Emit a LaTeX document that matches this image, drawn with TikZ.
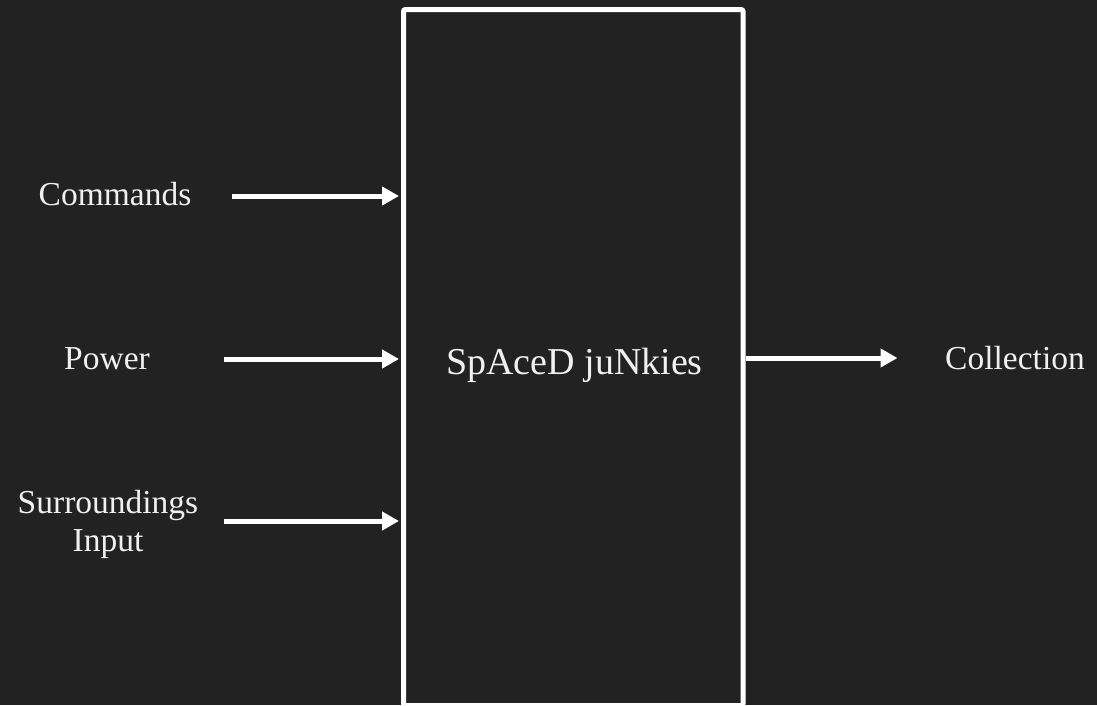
\documentclass[tikz,border=0pt]{standalone}
\usepackage{fontspec}
\setmainfont{Liberation Serif}
\usetikzlibrary{arrows.meta}
\definecolor{bgc}{RGB}{34,34,34}
\definecolor{txt}{RGB}{240,240,240}
\begin{document}
\begin{tikzpicture}[x=1pt,y=-1pt,
  lbl/.style={text=txt,font=\fontsize{33.5}{38.4}\selectfont,inner sep=0pt,anchor=base,align=center},
  ttl/.style={text=txt,font=\fontsize{38}{44}\selectfont,inner sep=0pt,anchor=base},
  sysbox/.style={draw=white,fill=bgc,line width=5pt,rounded corners=2pt,minimum width=339.5pt,minimum height=696pt,inner sep=0pt},
  flow/.style={draw=white,line width=5pt,-{Triangle[length=17pt,width=18pt]}}]
\fill[bgc] (0,0) rectangle (1097,705);
\useasboundingbox (0,0) rectangle (1097,705);
\node[sysbox] (sys) at (573.25,357.5) {};
\node[ttl] (title) at (574.5,374) {SpAceD juNkies};
\node[lbl] (cmd) at (115,205) {Commands};
\node[lbl] (pow) at (107,369) {Power};
\node[lbl] (sur) at (108,551.7) {Surroundings\\Input};
\node[lbl] (col) at (1015,369) {Collection};
\coordinate (cmdS) at (232,196);
\coordinate (powS) at (224,359);
\coordinate (surS) at (224,521);
\coordinate (colE) at (897.5,358);
\draw[flow,shorten >=2pt] (cmdS) -- (cmdS -| sys.west);
\draw[flow,shorten >=2pt] (powS) -- (powS -| sys.west);
\draw[flow,shorten >=2pt] (surS) -- (surS -| sys.west);
\draw[flow] (sys.east |- colE) -- (colE);
\end{tikzpicture}
\end{document}
